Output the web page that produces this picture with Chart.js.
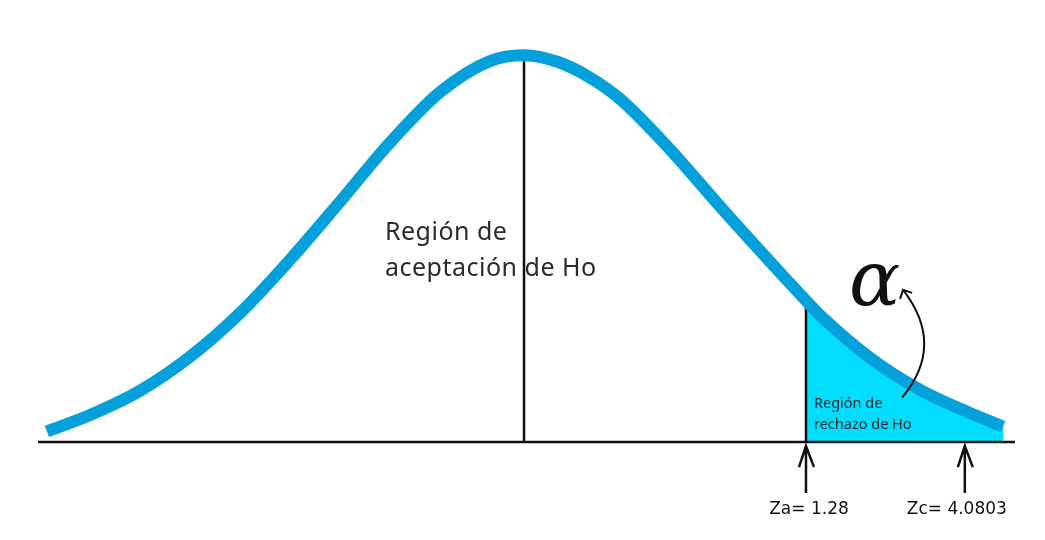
<!DOCTYPE html>
<html>
<head>
<meta charset="utf-8">
<script src="https://cdn.jsdelivr.net/npm/chart.js@4.4.1/dist/chart.umd.min.js"></script>
<style>
  html, body { margin: 0; padding: 0; background: #fff; }
  #wrap { width: 1045px; height: 540px; }
</style>
</head>
<body>
<div id="wrap"><canvas id="chart"></canvas></div>
<script>
// curva normal (x en desviaciones, y densidad)
const curvaX = [-2.511, -2.284, -2.021, -1.758, -1.495, -1.232, -0.968, -0.705, -0.442, -0.179, 0, 0.179, 0.347, 0.505, 0.768, 1.032, 1.295, 1.484, 1.558, 1.821, 2.084, 2.347, 2.521];
const curvaY = [0.011, 0.028, 0.053, 0.088, 0.133, 0.188, 0.248, 0.309, 0.361, 0.393, 0.399, 0.392, 0.376, 0.354, 0.302, 0.243, 0.186, 0.146, 0.131, 0.087, 0.054, 0.030, 0.016];

const posZa = 1.484;  // donde cae Za en el dibujo
const posZc = 2.32;   // donde cae Zc
const etiquetaZa = "Za= 1.28";
const etiquetaZc = "Zc= 4.0803";
const ejeX = [-2.558, 2.584];

const puntos = curvaX.map((x, i) => ({ x: x, y: curvaY[i] }));
const rechazo = puntos.filter(p => p.x >= posZa);

const anotaciones = {
    id: "anotaciones",
    afterDatasetsDraw(chart) {
        const { ctx, scales: { x, y } } = chart;
        ctx.save();

        // textos
        ctx.fillStyle = "#2b2b2b";
        ctx.font = "25px 'Noto Sans'";
        ctx.letterSpacing = "0.5px";
        ctx.textBaseline = "alphabetic";
        ctx.fillText("Región de", x.getPixelForValue(-0.732), y.getPixelForValue(0.208));
        ctx.fillText("aceptación de Ho", x.getPixelForValue(-0.732), y.getPixelForValue(0.171));
        ctx.letterSpacing = "0px";

        ctx.font = "14.5px 'Noto Sans'";
        ctx.fillText("Región de", x.getPixelForValue(1.526), y.getPixelForValue(0.035));
        ctx.fillText("rechazo de Ho", x.getPixelForValue(1.526), y.getPixelForValue(0.0135));

        ctx.fillStyle = "#111";
        ctx.font = "italic 76px 'DejaVu Serif'";
        ctx.fillText("α", x.getPixelForValue(1.71), y.getPixelForValue(0.141));

        // flecha curva hacia alfa
        ctx.strokeStyle = "#111";
        ctx.lineWidth = 2;
        const x0 = x.getPixelForValue(1.99), y0 = y.getPixelForValue(0.046);
        const x1 = x.getPixelForValue(1.995), y1 = y.getPixelForValue(0.157);
        const cx = x.getPixelForValue(2.22), cy = y.getPixelForValue(0.10);
        ctx.beginPath();
        ctx.moveTo(x0, y0);
        ctx.quadraticCurveTo(cx, cy, x1, y1);
        ctx.stroke();
        ctx.beginPath();
        ctx.moveTo(x1 - 3, y1 + 9);
        ctx.lineTo(x1, y1);
        ctx.lineTo(x1 + 9, y1 + 3);
        ctx.stroke();

        // flechas de Za y Zc
        [[posZa, etiquetaZa], [posZc, etiquetaZc]].forEach(([pos, txt]) => {
            const px = x.getPixelForValue(pos);
            const top = y.getPixelForValue(0) + 4;
            ctx.lineWidth = 2.5;
            ctx.beginPath();
            ctx.moveTo(px, top + 47);
            ctx.lineTo(px, top);
            ctx.moveTo(px - 7, top + 21);
            ctx.lineTo(px, top);
            ctx.lineTo(px + 8, top + 21);
            ctx.stroke();
            ctx.font = "17px 'DejaVu Sans'";
            ctx.textAlign = "center";
            ctx.fillText(txt, px + (pos === posZa ? 3 : -8), top + 68);
            ctx.textAlign = "left";
        });

        ctx.restore();
    }
};

new Chart(document.getElementById("chart").getContext("2d"), {
    type: "line",
    data: {
        datasets: [
            {
                data: puntos,
                borderColor: "#03A0DC",
                borderWidth: 12,
                pointRadius: 0,
                cubicInterpolationMode: "monotone",
                fill: false
            },
            {
                data: [{ x: 0, y: 0 }, { x: 0, y: 0.395 }],
                borderColor: "#111",
                borderWidth: 2.5,
                pointRadius: 0
            },
            {
                data: [{ x: posZa, y: 0 }, { x: posZa, y: 0.144 }],
                borderColor: "#111",
                borderWidth: 2.5,
                pointRadius: 0
            },
            {
                data: [{ x: ejeX[0], y: 0 }, { x: ejeX[1], y: 0 }],
                borderColor: "#111",
                borderWidth: 2.5,
                pointRadius: 0
            },
            {
                data: rechazo,
                borderWidth: 0,
                pointRadius: 0,
                cubicInterpolationMode: "monotone",
                backgroundColor: "#00DDFE",
                fill: "origin"
            }
        ]
    },
    options: {
        responsive: true,
        maintainAspectRatio: false,
        animation: false,
        layout: { padding: 0 },
        plugins: { legend: { display: false }, tooltip: { enabled: false } },
        scales: {
            x: { type: "linear", min: -2.758, max: 2.742, display: false },
            y: { min: -0.101, max: 0.456, display: false }
        }
    },
    plugins: [anotaciones]
});
</script>
</body>
</html>
